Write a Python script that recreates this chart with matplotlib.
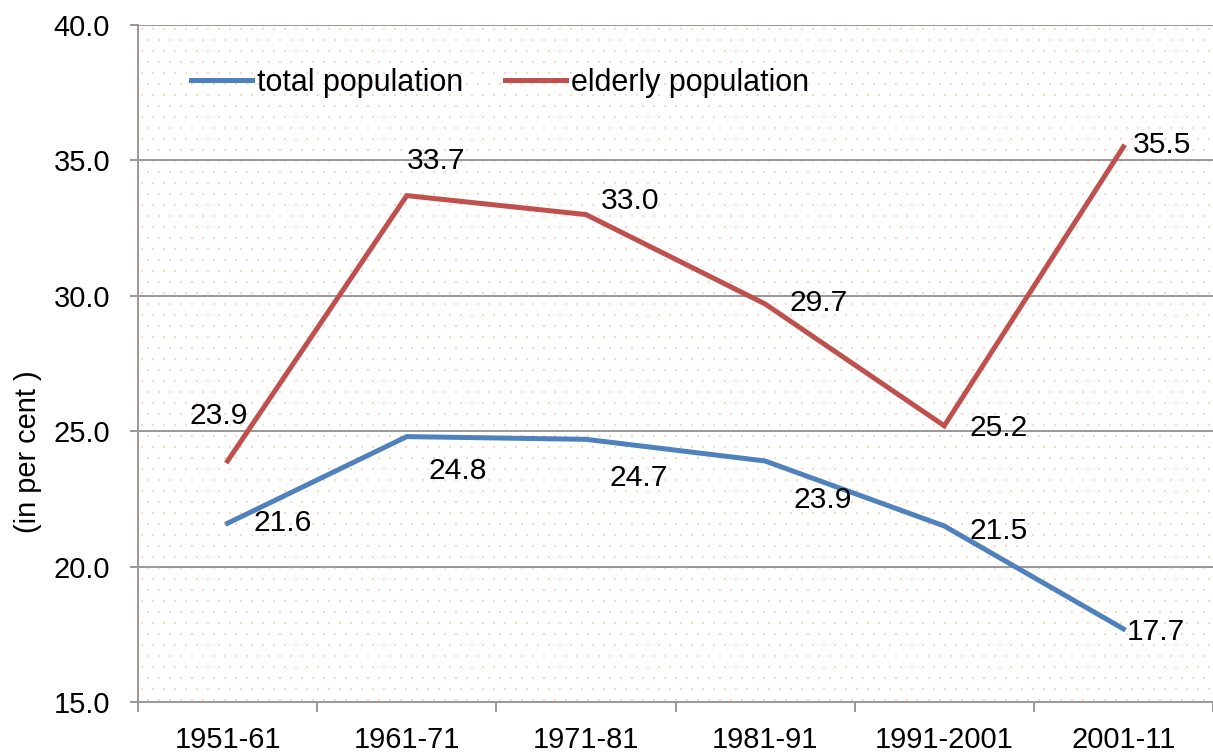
import numpy as np
import matplotlib.pyplot as plt

periods = ["1951-61", "1961-71", "1971-81", "1981-91", "1991-2001", "2001-11"]
total_pop = [21.6, 24.8, 24.7, 23.9, 21.5, 17.7]
elderly_pop = [23.9, 33.7, 33.0, 29.7, 25.2, 35.5]
y_ticks = [15.0, 20.0, 25.0, 30.0, 35.0, 40.0]

# label offsets in pixels (dpi 72 -> points == pixels)
total_off = [(55, 0), (51, -34), (53, -39), (58, -39), (54, -5), (32, -3)]
elderly_off = [(-9, 45), (29, 35), (44, 14), (54, 1), (54, -2), (39, 2)]

plt.rcParams['font.family'] = ['Liberation Sans', 'DejaVu Sans']

W, H = 1213, 754
fig = plt.figure(figsize=(W / 72, H / 72), dpi=72)
ax_l, ax_r, ax_t, ax_b = 138, 1213, 25, 702
ax = fig.add_axes([ax_l / W, 1 - ax_b / H, (ax_r - ax_l) / W, (ax_b - ax_t) / H])
ax.set_xlim(-0.5, 5.47)
ax.set_ylim(15, 40)

# dotted background texture (staggered dots every ~11 px)
aw, ah = ax_r - ax_l, ax_b - ax_t
dx, dy = 11.0, 11.0
dots_x, dots_y = [], []
for r, py in enumerate(np.arange(4, ah, dy)):
    start = 4 + (dx / 2 if r % 2 else 0)
    for px in np.arange(start, aw, dx):
        dots_x.append(px / aw)
        dots_y.append(1 - py / ah)
ax.scatter(dots_x, dots_y, transform=ax.transAxes, s=6, marker='s',
           color='#FCD9BE', linewidths=0, zorder=0, clip_on=True)

ax.set_yticks(y_ticks)
ax.set_yticklabels(["%.1f" % v for v in y_ticks])
ax.yaxis.grid(True, color='#9A9A9A', linewidth=2, zorder=1)
ax.set_axisbelow(True)

x = list(range(len(periods)))
ax.plot(x, total_pop, color='#4F81BD', linewidth=5, label='total population',
        solid_joinstyle='miter', zorder=3)
ax.plot(x, elderly_pop, color='#C0504D', linewidth=5, label='elderly population',
        solid_joinstyle='miter', zorder=3)

for i, v in enumerate(total_pop):
    ax.annotate("%.1f" % v, (i, v), xytext=total_off[i], textcoords='offset points',
                ha='center', va='center', fontsize=30, zorder=4)
for i, v in enumerate(elderly_pop):
    ax.annotate("%.1f" % v, (i, v), xytext=elderly_off[i], textcoords='offset points',
                ha='center', va='center', fontsize=30, zorder=4)

ax.set_xticks(x)
ax.set_xticklabels(periods)
ax.set_xticks([i - 0.5 for i in range(len(periods) + 1)], minor=True)
ax.tick_params(axis='x', which='major', length=0, pad=24, labelsize=29)
ax.tick_params(axis='x', which='minor', length=10, width=2, color='#9A9A9A', direction='out')
ax.tick_params(axis='y', length=8, width=2, color='#9A9A9A', pad=20, labelsize=29)

for s in ['top', 'right']:
    ax.spines[s].set_visible(False)
for s in ['left', 'bottom']:
    ax.spines[s].set_color('#9A9A9A')
    ax.spines[s].set_linewidth(2)

fig.text(28 / W, 1 - 452 / H, "(in per cent )", rotation=90, ha='center', va='center',
         fontsize=29)

ax.legend(loc='upper left', bbox_to_anchor=(0.038, 0.955), ncol=2, frameon=False,
          fontsize=30.5, handlelength=2.0, handletextpad=0.17, columnspacing=1.35,
          borderaxespad=0)

fig.savefig("out.png", dpi=72)
